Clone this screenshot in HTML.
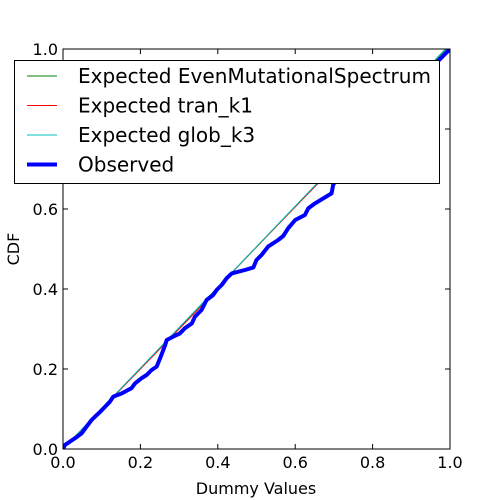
<!DOCTYPE html>
<html><head><meta charset="utf-8"><style>
body{margin:0;background:#fff;}
svg{display:block;font-family:"DejaVu Sans","Liberation Sans",sans-serif;}
</style></head><body>
<svg id="chart" width="500" height="500" viewBox="0 0 500 500">
<rect width="500" height="500" fill="#fff"/>
<g id="plot"></g>
</svg>
<script>
const xTicks=[0,0.2,0.4,0.6,0.8,1.0];
const yTicks=[0,0.2,0.4,0.6,0.8,1.0];
const tickLabels=["0.0","0.2","0.4","0.6","0.8","1.0"];
const expectedEvenX=[0,1];
const expectedEvenY=[0,1.01];
const expectedTranX=[0,0.42,0.44,1];
const expectedTranY=[0,0.42,0.445,1.005];
const expectedGlobX=[0,1];
const expectedGlobY=[0,1.012];
const observedX=[0,0.005,0.031,0.048,0.061,0.074,0.083,0.096,0.109,0.121,0.13,0.152,0.165,0.177,0.186,0.203,0.216,0.229,0.242,0.251,0.264,0.268,0.285,0.302,0.315,0.333,0.341,0.358,0.371,0.388,0.397,0.41,0.423,0.436,0.47,0.492,0.50,0.513,0.53,0.556,0.569,0.582,0.60,0.625,0.634,0.651,0.668,0.694,0.698,0.72,0.85,0.966,1.0];
const observedY=[0,0.01,0.027,0.039,0.056,0.0725,0.081,0.093,0.106,0.118,0.131,0.139,0.146,0.152,0.164,0.177,0.185,0.1975,0.206,0.227,0.26,0.2725,0.281,0.289,0.302,0.314,0.331,0.3475,0.3725,0.385,0.3975,0.41,0.427,0.439,0.4475,0.454,0.4725,0.485,0.506,0.5225,0.5325,0.552,0.5725,0.585,0.602,0.614,0.624,0.639,0.66,0.70,0.84,0.967,1.0];

const L=63,R=450,T=49,B=449;
const sx=v=>L+v*(R-L), sy=v=>B-v*(B-T);
const NS="http://www.w3.org/2000/svg";
const g=document.getElementById('plot');
function mk(tag,attrs,parent){const e=document.createElementNS(NS,tag);for(const k in attrs)e.setAttribute(k,attrs[k]);(parent||g).appendChild(e);return e;}
const clip=mk('clipPath',{id:'c'});mk('rect',{x:L,y:T,width:R-L,height:B-T},clip);
function line(xs,ys,color,w,name){
  const p=mk('polyline',{points:xs.map((x,i)=>sx(x)+','+sy(ys[i])).join(' '),fill:'none',stroke:color,'stroke-width':w,'clip-path':'url(#c)','stroke-linejoin':'round'});
  
  
}
line(expectedEvenX,expectedEvenY,'#008000',1,'expected-even-line');
line(expectedTranX,expectedTranY,'#ff0000',1,'expected-tran-line');
line(expectedGlobX,expectedGlobY,'#00bfbf',1,'expected-glob-line');
line(observedX,observedY,'#0000ff',4,'observed-line');
const fr=mk('rect',{x:L,y:T,width:R-L,height:B-T,fill:'none',stroke:'#000','stroke-width':1});


xTicks.forEach((v,i)=>{
  const x=sx(v);
  mk('line',{x1:x,y1:B,x2:x,y2:B-5,stroke:'#000'});mk('line',{x1:x,y1:T,x2:x,y2:T+5,stroke:'#000'});
  const t=mk('text',{x:x,y:B+19,'text-anchor':'middle','font-size':16});t.textContent=tickLabels[i];
  
  
});
yTicks.forEach((v,i)=>{
  const y=sy(v);
  mk('line',{x1:L,y1:y,x2:L+5,y2:y,stroke:'#000'});mk('line',{x1:R,y1:y,x2:R-5,y2:y,stroke:'#000'});
  const t=mk('text',{x:L-5,y:y+6,'text-anchor':'end','font-size':16});t.textContent=tickLabels[i];
  
  
});
const xt=mk('text',{x:256,y:494,'text-anchor':'middle','font-size':16});xt.textContent='Dummy Values';


const yt=mk('text',{x:19,y:249,'text-anchor':'middle','font-size':16,transform:'rotate(-90 19 249)'});yt.textContent='CDF';


const lg=mk('g',{});


mk('rect',{x:14.5,y:60.5,width:425,height:123,fill:'#fff',stroke:'#000'},lg);
const entries=[['Expected EvenMutationalSpectrum','#008000',1],['Expected tran_k1','#ff0000',1],['Expected glob_k3','#00bfbf',1],['Observed','#0000ff',4]];
entries.forEach((e,i)=>{
  const y=76+i*29.5;
  const ent=mk('g',{},lg);
  
  
  mk('line',{x1:27,y1:y,x2:57,y2:y,stroke:e[1],'stroke-width':e[2]},ent);
  const t=mk('text',{x:78,y:y+7,'font-size':20},ent);t.textContent=e[0];
  if(i===0)t.setAttribute('textLength',353);
});
</script>
</body></html>
